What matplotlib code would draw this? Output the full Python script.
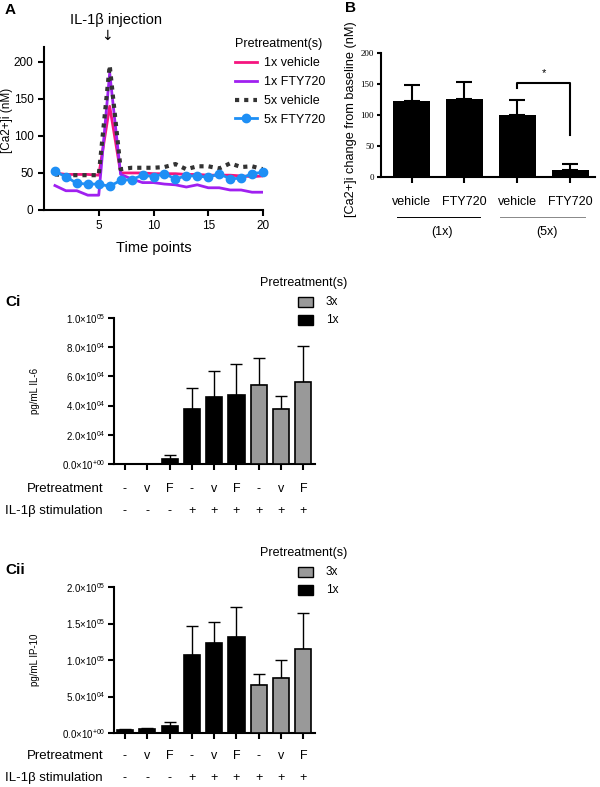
import numpy as np
import matplotlib.pyplot as plt

plt.rcParams['font.family'] = ['Liberation Sans', 'DejaVu Sans']
plt.rcParams['mathtext.fontset'] = 'custom'
plt.rcParams['mathtext.rm'] = 'Liberation Sans'
plt.rcParams['mathtext.it'] = 'Liberation Sans:italic'

# Panel A: [Ca2+]i over time
t = np.arange(1, 21)
veh_1x = [50, 48, 48, 48, 47, 140, 50, 50, 50, 49, 49, 49, 48, 48, 47, 47, 47, 46, 45, 46]
fty_1x = [33, 26, 26, 20, 20, 185, 48, 42, 37, 37, 35, 34, 31, 34, 30, 30, 27, 27, 24, 24]
veh_5x = [48, 47, 47, 47, 47, 195, 55, 57, 57, 57, 58, 62, 55, 59, 59, 56, 63, 58, 59, 55]
fty_5x = [52, 45, 36, 35, 35, 32, 40, 41, 47, 45, 49, 42, 46, 46, 44, 49, 42, 43, 49, 51]

# Panel B: change from baseline
b_labels = ['vehicle', 'FTY720', 'vehicle', 'FTY720']
b_vals = [123, 126, 100, 11]
b_err = [25, 27, 25, 10]

# Panel C
pre_row = ['-', 'v', 'F', '-', 'v', 'F', '-', 'v', 'F']
il_row = ['-', '-', '-', '+', '+', '+', '+', '+', '+']
il6 = [0, 0, 3.5e3, 3.8e4, 4.6e4, 4.75e4, 5.4e4, 3.8e4, 5.6e4]
il6_top = [0, 0, 6.5e3, 5.2e4, 6.4e4, 6.85e4, 7.25e4, 4.65e4, 8.05e4]
ip10 = [4e3, 5e3, 1e4, 1.07e5, 1.23e5, 1.31e5, 6.6e4, 7.5e4, 1.15e5]
ip10_top = [5.5e3, 6.5e3, 1.45e4, 1.46e5, 1.52e5, 1.72e5, 8.1e4, 1.0e5, 1.64e5]
groups = ['1x'] * 6 + ['3x'] * 3

W, H = 600, 787
fig = plt.figure(figsize=(6, 7.87), dpi=100)


def add_ax(l, r, top, bot):
    return fig.add_axes([l / W, 1 - bot / H, (r - l) / W, (bot - top) / H])


def style(ax, lw=1.5):
    for s in ['top', 'right']:
        ax.spines[s].set_visible(False)
    for s in ['left', 'bottom']:
        ax.spines[s].set_linewidth(lw)
    ax.tick_params(width=lw, direction='out')


# ---------- A ----------
axA = add_ax(44, 263, 47, 210)
axA.plot(t, veh_1x, color='#f5157f', lw=2, label='1x vehicle')
axA.plot(t, fty_1x, color='#a020f0', lw=2, label='1x FTY720')
axA.plot(t, veh_5x, color='#333333', lw=3, linestyle=(0, (1, 1.2)), label='5x vehicle')
axA.plot(t, fty_5x, color='#1e8ff5', lw=2, marker='o', ms=6, label='5x FTY720', clip_on=False)
axA.set_xlim(0, 20)
axA.set_ylim(0, 220)
axA.set_xticks([5, 10, 15, 20])
axA.set_yticks([0, 50, 100, 150, 200])
axA.tick_params(labelsize=8.5, length=4)
axA.set_xlabel('Time points', fontsize=10.5, labelpad=6)
axA.set_ylabel('[Ca2+]i (nM)', fontsize=8.5)
axA.yaxis.set_label_coords(-0.142, 0.55)
style(axA)
leg = axA.legend(loc='upper left', bbox_to_anchor=(224 / W, 1 - 27 / H),
                 bbox_transform=fig.transFigure, frameon=False, fontsize=9,
                 title='Pretreatment(s)', title_fontsize=9, handlelength=1.7,
                 handletextpad=0.6, labelspacing=0.55)
leg._legend_box.align = 'left'
fig.text(5 / W, 1 - 10 / H, 'A', fontsize=11, weight='bold', va='center')
fig.text(116 / W, 1 - 20 / H, 'IL-1β injection', fontsize=10.5, ha='center', va='center')
fig.text(107 / W, 1 - 36 / H, '↓', fontsize=10, ha='center', va='center', family='DejaVu Sans')

# ---------- B ----------
axB = add_ax(381, 595, 53, 177)
xb = np.arange(len(b_vals))
axB.bar(xb, b_vals, width=0.7, color='black')
axB.errorbar(xb, b_vals, yerr=[np.zeros(4), b_err], fmt='none', ecolor='black',
             elinewidth=1.5, capsize=5.5, capthick=1.5)
axB.set_xlim(-0.58, 3.47)
axB.set_ylim(0, 200)
axB.set_yticks([0, 50, 100, 150, 200])
axB.set_xticks(xb)
axB.set_xticklabels(b_labels, fontsize=9)
axB.tick_params(axis='x', pad=10, length=4)
axB.tick_params(axis='y', length=3, pad=2)
for lab in axB.get_yticklabels():
    lab.set_family('Liberation Serif')
    lab.set_fontsize(6.5)
axB.set_ylabel('[Ca2+]i change from baseline (nM)', fontsize=9.2)
axB.yaxis.set_label_coords(-0.112, 0.47)
style(axB)
# significance bracket
axB.plot([2, 2, 3, 3], [143, 151, 151, 68], color='black', lw=1.5)
axB.text(2.5, 168, '*', fontsize=8, ha='center', va='center')
fig.add_artist(plt.Line2D([397 / W, 480 / W], [1 - 217 / H] * 2, color='black', lw=0.7))
fig.add_artist(plt.Line2D([500 / W, 585 / W], [1 - 217 / H] * 2, color='#888888', lw=0.7))
fig.text(442 / W, 1 - 232 / H, '(1x)', fontsize=9, ha='center', va='center')
fig.text(547 / W, 1 - 232 / H, '(5x)', fontsize=9, ha='center', va='center')
fig.text(345 / W, 1 - 8 / H, 'B', fontsize=11, weight='bold', va='center')


# ---------- C ----------
def sci(v):
    if v == 0:
        return r'$\mathregular{0.0{\times}10^{+00}}$'
    e = int(np.floor(np.log10(v)))
    return r'$\mathregular{%.1f{\times}10^{%02d}}$' % (v / 10 ** e, e)


def panel_c(top, bot, vals, tops, ymax, yticks, ylabel, tag, tag_y, row1_y, row2_y, leg_y):
    ax = add_ax(114, 315, top, bot)
    x = np.arange(len(vals))
    cols = ['#999999' if g == '3x' else 'black' for g in groups]
    err = [np.zeros(len(vals)), np.array(tops) - np.array(vals)]
    ax.errorbar(x, vals, yerr=err, fmt='none', ecolor='black', elinewidth=1,
                capsize=4, capthick=1)
    ax.bar(x, vals, width=0.72, color=cols, edgecolor='black', linewidth=1.2, zorder=3)
    ax.set_xlim(-0.49, 8.52)
    ax.set_ylim(0, ymax)
    ax.set_yticks(yticks)
    ax.set_yticklabels([sci(v) for v in yticks], fontsize=7)
    ax.set_xticks(x)
    ax.set_xticklabels([])
    ax.tick_params(axis='both', length=4)
    ax.tick_params(axis='y', pad=2)
    ax.set_ylabel(ylabel, fontsize=7)
    ax.yaxis.set_label_coords(-0.368, 0.5)
    style(ax)
    for i in range(len(vals)):
        xf = (114 + (i + 0.49) / 9.01 * 201) / W
        fig.text(xf, 1 - row1_y / H, pre_row[i], fontsize=9, ha='center', va='center')
        fig.text(xf, 1 - row2_y / H, il_row[i], fontsize=9, ha='center', va='center')
    fig.text(103 / W, 1 - row1_y / H, 'Pretreatment', fontsize=9.5, ha='right', va='center')
    fig.text(103 / W, 1 - row2_y / H, 'IL-1β stimulation', fontsize=9.5, ha='right', va='center')
    fig.text(5 / W, 1 - tag_y / H, tag, fontsize=11, weight='bold', va='center')
    fig.text(260 / W, 1 - leg_y / H, 'Pretreatment(s)', fontsize=9, va='center')
    for k, (g, c) in enumerate([('3x', '#999999'), ('1x', 'black')]):
        yk = leg_y + 19 + k * 18
        fig.add_artist(plt.Rectangle((298 / W, 1 - (yk + 5) / H), 15 / W, 10 / H,
                                     facecolor=c, edgecolor='black', lw=1))
        fig.text(326 / W, 1 - yk / H, g, fontsize=8.5, va='center')
    return ax


panel_c(318, 464, il6, il6_top, 1e5, [0, 2e4, 4e4, 6e4, 8e4, 1e5], 'pg/mL IL-6',
        'Ci', 302, 489, 511, 283)
panel_c(587, 733, ip10, ip10_top, 2e5, [0, 5e4, 1e5, 1.5e5, 2e5], 'pg/mL IP-10',
        'Cii', 570, 756, 778, 553)

fig.savefig('out.png', dpi=100)
